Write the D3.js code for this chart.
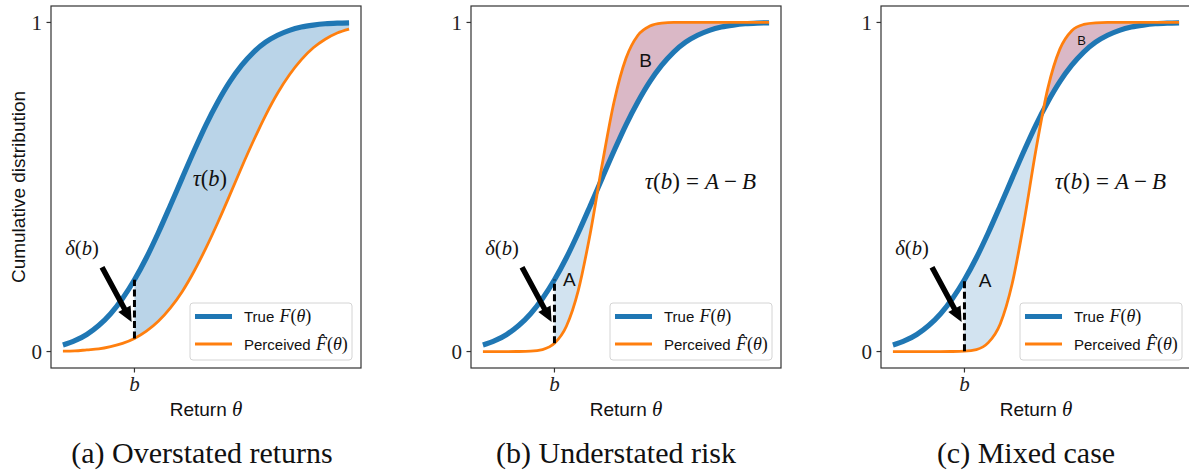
<!DOCTYPE html>
<html>
<head>
<meta charset="utf-8">
<script src="https://cdn.jsdelivr.net/npm/d3@7"></script>
<style>
  body { margin: 0; background: #fff; }
  svg { display: block; }
</style>
</head>
<body>
<div id="chart"></div>
<script>
// values (return grid shared by all curves)
var theta = [-3, -2.75, -2.5, -2.25, -2, -1.75, -1.5, -1.25, -1, -0.75, -0.5, -0.25,
             0, 0.25, 0.5, 0.75, 1, 1.25, 1.5, 1.75, 2, 2.25, 2.5, 2.75, 3];

// true cdf, same in the three panels
var trueF = [0.020, 0.033, 0.052, 0.079, 0.115, 0.161, 0.218, 0.285, 0.361, 0.443, 0.527, 0.610,
             0.689, 0.759, 0.820, 0.870, 0.910, 0.940, 0.961, 0.976, 0.986, 0.992, 0.996, 0.998, 0.999];

// perceived cdf per panel
var perceivedA = [0.001, 0.002, 0.005, 0.008, 0.015, 0.025, 0.040, 0.062, 0.092, 0.132, 0.182, 0.244,
                  0.315, 0.393, 0.476, 0.561, 0.642, 0.718, 0.785, 0.841, 0.887, 0.923, 0.949, 0.968, 0.980];
var perceivedB = [0, 0, 0, 0.0002, 0.001, 0.006, 0.025, 0.077, 0.186, 0.359, 0.568, 0.759,
                  0.891, 0.961, 0.989, 0.998, 1, 1, 1, 1, 1, 1, 1, 1, 1];
var perceivedC = [0, 0, 0, 0, 0, 0.0002, 0.001, 0.006, 0.027, 0.084, 0.206, 0.395,
                  0.614, 0.801, 0.919, 0.975, 0.994, 0.999, 1, 1, 1, 1, 1, 1, 1];

var bValue = -1.5;
var captions = ["(a) Overstated returns", "(b) Understated risk", "(c) Mixed case"];
var yTicks = [0, 1];

var width = 1189, height = 471;
var blue = "#1f77b4", orange = "#ff7f0e";
var sans = "'Liberation Sans', Arial, sans-serif";
var serif = "'Liberation Serif', 'Times New Roman', serif";

var panels = [
  { left: 51,  perceived: perceivedA, mode: "single", captionX: 202, ylabel: true,
    tau: { x: 0.08, y: 0.52, full: false } },
  { left: 471, perceived: perceivedB, mode: "split", captionX: 616, ylabel: false,
    tau: { x: 1.56, y: 0.51, full: true },
    labelA: { x: -1.19, y: 0.22, size: 19 }, labelB: { x: 0.41, y: 0.886, size: 19 } },
  { left: 881, perceived: perceivedC, mode: "split", captionX: 1026, ylabel: false,
    tau: { x: 1.56, y: 0.51, full: true },
    labelA: { x: -1.07, y: 0.217, size: 19 }, labelB: { x: 0.955, y: 0.944, size: 13 } }
];

var boxW = 310, boxTop = 6, boxBottom = 368;

var svg = d3.select("#chart").append("svg")
  .attr("width", width)
  .attr("height", height);

svg.append("rect").attr("width", width).attr("height", height).attr("fill", "#fff");

// writes a run of text pieces, "i" = math italic, "n" = upright serif, "s" = sans
function richText(sel, parts, size) {
  parts.forEach(function(p) {
    var t = sel.append("tspan")
      .attr("font-family", p[1] == "s" ? sans : serif)
      .attr("font-style", p[1] == "i" ? "italic" : "normal")
      .attr("font-size", p[2] || size)
      .text(p[0]);
    if (p[3]) t.attr("dx", p[3]);
  });
  return sel;
}

var defs = svg.append("defs");

panels.forEach(function(p, pi) {
  var x = d3.scaleLinear().domain([-3.25, 3.25]).range([p.left, p.left + boxW]);
  var y = d3.scaleLinear().domain([-0.05, 1.05]).range([boxBottom, boxTop]);

  var rows = theta.map(function(t, i) {
    return { t: t, f: trueF[i], g: p.perceived[i] };
  });
  var tail = rows.filter(function(d) { return d.t >= bValue; });

  var g = svg.append("g");

  // fills between the curves, right of b
  var between = d3.area().curve(d3.curveMonotoneX)
    .x(function(d) { return x(d.t); })
    .y0(function(d) { return y(d.g); })
    .y1(function(d) { return y(d.f); });

  if (p.mode == "single") {
    g.append("path").datum(tail).attr("d", between).attr("fill", "#bad4e8");
  } else {
    var below = d3.area().curve(d3.curveMonotoneX)
      .x(function(d) { return x(d.t); })
      .y0(y(-0.05))
      .y1(function(d) { return y(d.f); });
    var above = d3.area().curve(d3.curveMonotoneX)
      .x(function(d) { return x(d.t); })
      .y0(y(1.05))
      .y1(function(d) { return y(d.f); });
    defs.append("clipPath").attr("id", "below" + pi).append("path").datum(rows).attr("d", below);
    defs.append("clipPath").attr("id", "above" + pi).append("path").datum(rows).attr("d", above);
    g.append("path").datum(tail).attr("d", between)
      .attr("fill", "#d2e3f0").attr("clip-path", "url(#below" + pi + ")");
    g.append("path").datum(tail).attr("d", between)
      .attr("fill", "#dab8c6").attr("clip-path", "url(#above" + pi + ")");
  }

  // curves
  var lineF = d3.line().curve(d3.curveMonotoneX)
    .x(function(d) { return x(d.t); })
    .y(function(d) { return y(d.f); });
  var lineG = d3.line().curve(d3.curveMonotoneX)
    .x(function(d) { return x(d.t); })
    .y(function(d) { return y(d.g); });

  g.append("path").datum(rows).attr("d", lineF)
    .attr("fill", "none").attr("stroke", blue).attr("stroke-width", 5.2);
  g.append("path").datum(rows).attr("d", lineG)
    .attr("fill", "none").attr("stroke", orange).attr("stroke-width", 2.8);

  // dashed gap at b
  var atB = rows.filter(function(d) { return d.t == bValue; })[0];
  g.append("line")
    .attr("x1", x(bValue)).attr("x2", x(bValue))
    .attr("y1", y(atB.g)).attr("y2", y(atB.f))
    .attr("stroke", "#000").attr("stroke-width", 3)
    .attr("stroke-dasharray", "7,3.5");

  // arrow pointing at the gap
  var x1 = x(-2.18), y1 = y(0.256), x2 = x(-1.56), y2 = y(0.09);
  var dx = x2 - x1, dy = y2 - y1, len = Math.sqrt(dx * dx + dy * dy);
  var ux = dx / len, uy = dy / len, nx = -uy, ny = ux;
  var headLen = 15, headW = 14, shaftW = 5.5;
  var bx = x2 - ux * headLen, by = y2 - uy * headLen;
  var pts = [
    [x1 + nx * shaftW / 2, y1 + ny * shaftW / 2],
    [bx + nx * shaftW / 2, by + ny * shaftW / 2],
    [bx + nx * headW / 2, by + ny * headW / 2],
    [x2, y2],
    [bx - nx * headW / 2, by - ny * headW / 2],
    [bx - nx * shaftW / 2, by - ny * shaftW / 2],
    [x1 - nx * shaftW / 2, y1 - ny * shaftW / 2]
  ];
  g.append("polygon").attr("points", pts.map(function(q) { return q.join(","); }).join(" "))
    .attr("fill", "#000");

  richText(g.append("text").attr("x", x(-2.6)).attr("y", y(0.31)).attr("dy", "0.35em")
    .attr("text-anchor", "middle").attr("fill", "#111"),
    [["δ", "i"], ["(", "n"], ["b", "i"], [")", "n"]], 20.5);

  // tau label
  var tauParts = [["τ", "i"], ["(", "n"], ["b", "i"], [")", "n"]];
  if (p.tau.full) tauParts = tauParts.concat([["=", "n", null, 6], ["A", "i", null, 6],
                                              ["−", "n", null, 5], ["B", "i", null, 5]]);
  richText(g.append("text").attr("x", x(p.tau.x)).attr("y", y(p.tau.y)).attr("dy", "0.35em")
    .attr("text-anchor", "middle").attr("fill", "#111"), tauParts, p.tau.full ? 23 : 22.5);

  if (p.labelA) {
    g.append("text").attr("x", x(p.labelA.x)).attr("y", y(p.labelA.y)).attr("dy", "0.35em")
      .attr("text-anchor", "middle").attr("font-family", sans).attr("font-size", p.labelA.size)
      .attr("fill", "#111").text("A");
    g.append("text").attr("x", x(p.labelB.x)).attr("y", y(p.labelB.y)).attr("dy", "0.35em")
      .attr("text-anchor", "middle").attr("font-family", sans).attr("font-size", p.labelB.size)
      .attr("fill", "#111").text("B");
  }

  // frame
  g.append("rect")
    .attr("x", p.left).attr("y", boxTop)
    .attr("width", boxW).attr("height", boxBottom - boxTop)
    .attr("fill", "none").attr("stroke", "#333").attr("stroke-width", 1.2);

  // y ticks
  yTicks.forEach(function(v) {
    g.append("line").attr("x1", p.left - 4.5).attr("x2", p.left)
      .attr("y1", y(v)).attr("y2", y(v)).attr("stroke", "#333").attr("stroke-width", 1.2);
    g.append("text").attr("x", p.left - 9).attr("y", y(v)).attr("dy", "0.35em")
      .attr("text-anchor", "end").attr("font-family", serif).attr("font-size", 21)
      .attr("fill", "#222").text(v);
  });

  // x tick at b
  g.append("line").attr("x1", x(bValue)).attr("x2", x(bValue))
    .attr("y1", boxBottom).attr("y2", boxBottom + 4.5).attr("stroke", "#333").attr("stroke-width", 1.2);
  g.append("text").attr("x", x(bValue)).attr("y", 391)
    .attr("text-anchor", "middle").attr("font-family", serif).attr("font-style", "italic")
    .attr("font-size", 21).attr("fill", "#222").text("b");

  // axis titles
  richText(g.append("text").attr("x", p.left + boxW / 2).attr("y", 416)
    .attr("text-anchor", "middle").attr("fill", "#111"),
    [["Return ", "s"], ["θ", "i", 21]], 19);

  if (p.ylabel) {
    g.append("text")
      .attr("transform", "translate(25," + ((boxTop + boxBottom) / 2) + ") rotate(-90)")
      .attr("text-anchor", "middle").attr("font-family", sans).attr("font-size", 19)
      .attr("fill", "#111").text("Cumulative distribution");
  }

  // legend
  var lg = g.append("g").attr("transform", "translate(" + (p.left + 139) + ",303)");
  lg.append("rect").attr("width", 162).attr("height", 57).attr("rx", 3)
    .attr("fill", "#fff").attr("fill-opacity", 0.85)
    .attr("stroke", "#d4d4d4").attr("stroke-width", 1);
  lg.append("line").attr("x1", 5).attr("x2", 42).attr("y1", 13.5).attr("y2", 13.5)
    .attr("stroke", blue).attr("stroke-width", 5.2);
  lg.append("line").attr("x1", 5).attr("x2", 42).attr("y1", 41).attr("y2", 41)
    .attr("stroke", orange).attr("stroke-width", 2.8);
  richText(lg.append("text").attr("x", 54).attr("y", 13.5).attr("dy", "0.35em").attr("fill", "#111"),
    [["True ", "s"], ["F", "i", 18, 1], ["(", "n", 18], ["θ", "i", 18], [")", "n", 18]], 15);
  richText(lg.append("text").attr("x", 54).attr("y", 41).attr("dy", "0.35em").attr("fill", "#111"),
    [["Perceived ", "s"], ["F\u0302", "i", 18, 1], ["(", "n", 18], ["θ", "i", 18], [")", "n", 18]], 15);

  // caption
  svg.append("text").attr("x", p.captionX).attr("y", 463)
    .attr("text-anchor", "middle").attr("font-family", serif).attr("font-size", 30)
    .attr("fill", "#111").text(captions[pi]);
});
</script>
</body>
</html>
